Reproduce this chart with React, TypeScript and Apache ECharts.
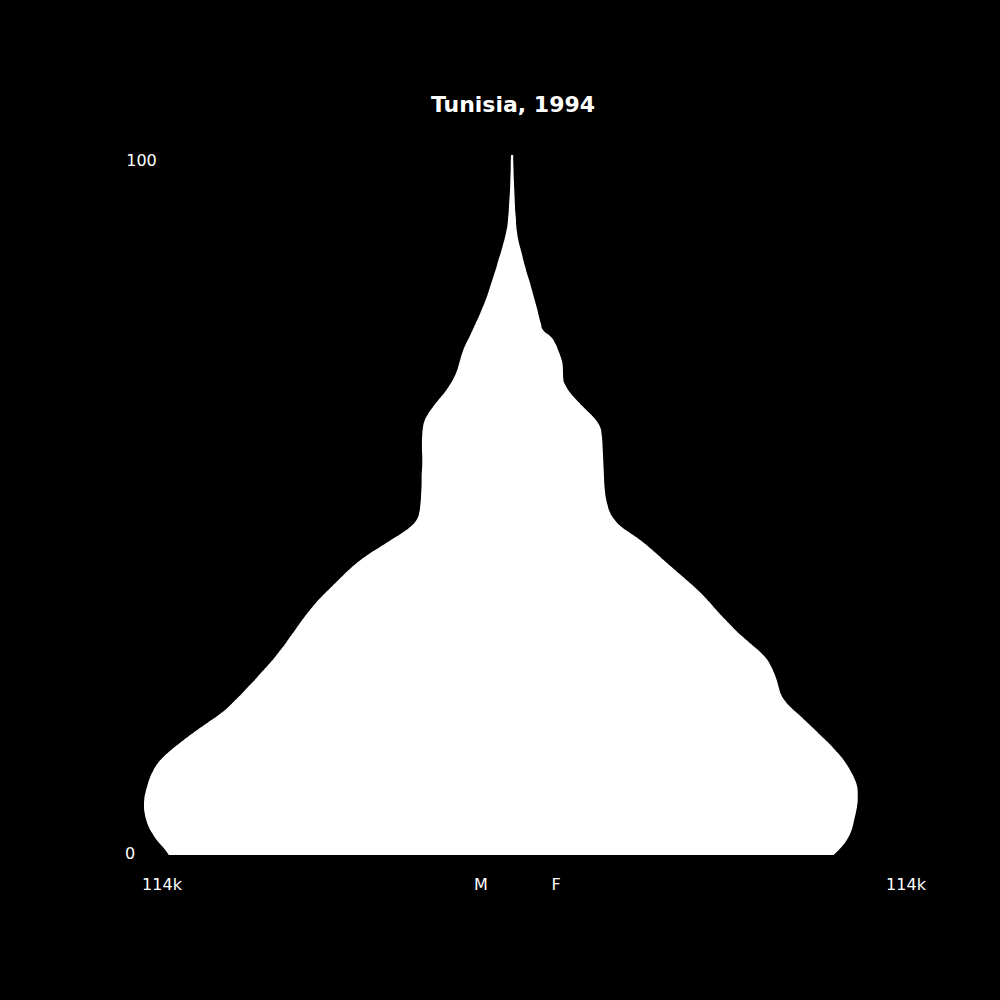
import * as echarts from 'echarts';
import { useEffect, useRef } from 'react';

const TITLE = 'Tunisia, 1994';

// ages 0..100, bottom to top
const AGES = Array.from({ length: 101 }, (_, i) => String(i));

// population by single year of age, thousands
const MALE = [
  106.3, 107.9, 109.8, 111.3, 112.5, 113.3, 113.8, 114.0, 113.9, 113.5,
  112.9, 112.2, 111.2, 109.9, 108.0, 105.6, 102.9, 100.1, 97.1, 94.0,
  90.9, 88.2, 86.0, 83.8, 81.8, 79.7, 77.8, 75.8, 73.9, 72.2,
  70.5, 69.0, 67.4, 65.9, 64.3, 62.6, 60.8, 58.8, 56.6, 54.4,
  52.2, 49.9, 47.3, 44.3, 40.9, 37.5, 34.1, 31.2, 29.4, 28.7,
  28.4, 28.2, 28.1, 28.0, 28.0, 27.9, 27.8, 27.8, 27.9, 27.9,
  27.8, 27.6, 27.1, 26.0, 24.5, 22.8, 21.0, 19.5, 18.2, 17.2,
  16.5, 15.9, 15.2, 14.3, 13.2, 12.2, 11.2, 10.2, 9.3, 8.4,
  7.6, 6.9, 6.2, 5.5, 4.8, 4.2, 3.5, 2.9, 2.3, 1.8,
  1.4, 1.2, 1.0, 0.9, 0.74, 0.62, 0.53, 0.47, 0.4, 0.37,
  0.3,
];

const FEMALE = [
  99.6, 101.8, 103.5, 104.7, 105.5, 106.0, 106.5, 106.9, 107.1, 107.1,
  106.8, 106.0, 104.9, 103.6, 102.0, 100.1, 98.1, 95.8, 93.6, 91.3,
  89.0, 86.6, 84.6, 83.3, 82.6, 82.0, 81.2, 80.2, 78.9, 76.9,
  74.4, 71.9, 69.5, 67.4, 65.3, 63.3, 61.4, 59.4, 57.2, 54.8,
  52.3, 49.8, 47.3, 44.9, 42.4, 39.7, 36.6, 33.6, 31.6, 30.3,
  29.6, 29.1, 28.8, 28.6, 28.5, 28.4, 28.3, 28.2, 28.1, 28.0,
  27.8, 27.4, 26.2, 24.3, 22.1, 20.0, 18.1, 16.7, 15.9, 15.8,
  15.7, 15.2, 14.4, 13.5, 12.1, 9.6, 8.9, 8.3, 7.8, 7.2,
  6.6, 6.0, 5.4, 4.7, 4.1, 3.5, 3.0, 2.4, 1.9, 1.55,
  1.3, 1.2, 1.0, 0.9, 0.8, 0.7, 0.62, 0.53, 0.47, 0.4,
  0.37,
];

const X_MAX = 114;
const X_LABEL = '114k';
const SEX_LABELS = ['M', 'F'];
const AGE_LABELS = ['0', '100'];

export default function App() {
  const chartRef = useRef<HTMLDivElement>(null);

  useEffect(() => {
    if (!chartRef.current) return;
    document.body.style.background = '#000';
    const chart = echarts.init(chartRef.current, undefined, { renderer: 'svg' });

    const font = 'DejaVu Sans';
    const label = (text: string, x: number, y: number) => ({
      type: 'text',
      x,
      y,
      style: {
        text,
        fill: '#fff',
        font: `16px "${font}"`,
        textAlign: 'center',
        textVerticalAlign: 'middle',
      },
    });

    chart.setOption({
      animation: false,
      backgroundColor: '#000',
      grid: { left: 144, right: 120, top: 155, bottom: 145 },
      xAxis: {
        type: 'value',
        min: -X_MAX,
        max: X_MAX,
        show: false,
      },
      yAxis: {
        type: 'category',
        data: AGES,
        boundaryGap: false,
        show: false,
      },
      graphic: [
        {
          type: 'text',
          x: 513,
          y: 104,
          style: {
            text: TITLE,
            fill: '#fff',
            font: `bold 22px "${font}"`,
            textAlign: 'center',
            textVerticalAlign: 'middle',
          },
        },
        label(AGE_LABELS[1], 141.5, 160),
        label(AGE_LABELS[0], 130, 853),
        label(X_LABEL, 162, 884),
        label(X_LABEL, 906, 884),
        label(SEX_LABELS[0], 481, 884),
        label(SEX_LABELS[1], 556, 884),
      ],
      series: [
        {
          name: 'M',
          type: 'line',
          data: MALE.map(v => -v),
          smooth: true,
          symbol: 'none',
          lineStyle: { width: 0 },
          areaStyle: { color: '#fff', opacity: 1 },
        },
        {
          name: 'F',
          type: 'line',
          data: FEMALE,
          smooth: true,
          symbol: 'none',
          lineStyle: { width: 0 },
          areaStyle: { color: '#fff', opacity: 1 },
        },
      ],
    });

    return () => chart.dispose();
  }, []);

  return (
    <div
      ref={chartRef}
      style={{ position: 'absolute', left: 0, top: 0, width: 1000, height: 1000 }}
    />
  );
}
